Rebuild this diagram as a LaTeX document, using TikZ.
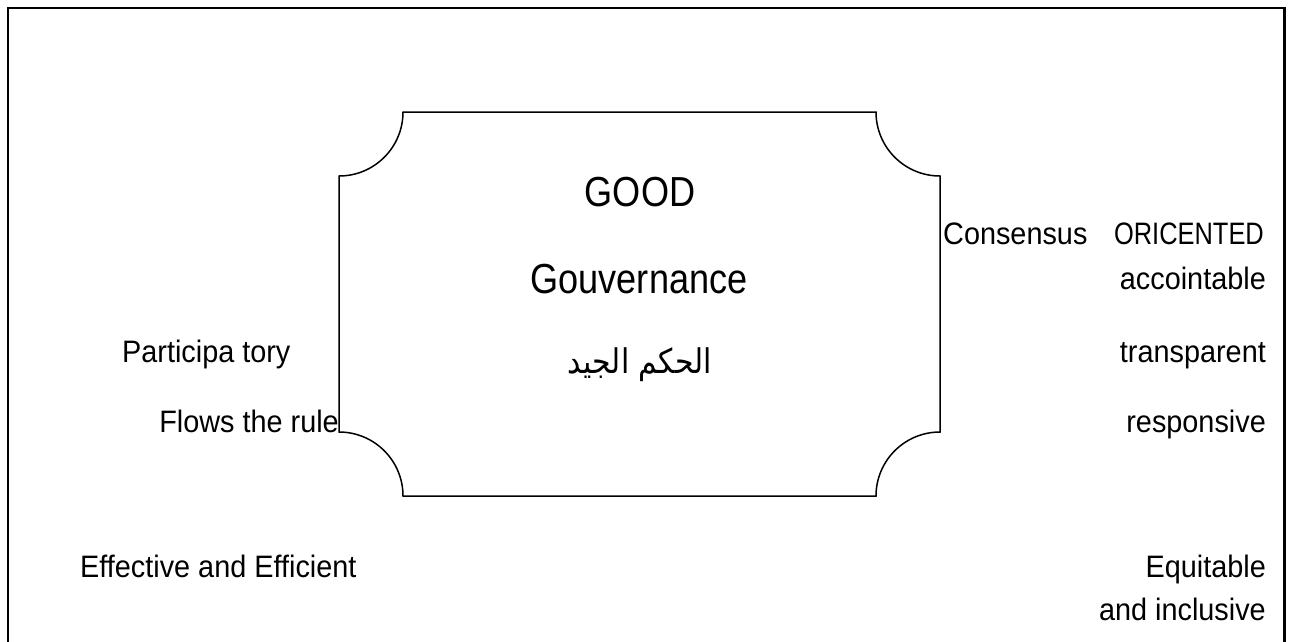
\documentclass[tikz,border=0pt]{standalone}
\usepackage{fontspec}
\setmainfont{Liberation Sans}
\newfontfamily\labelfont[FakeStretch=0.93]{Liberation Sans}
\newfontfamily\titlefont[FakeStretch=0.86]{Liberation Sans}
\newfontfamily\capsfont[FakeStretch=0.82]{Liberation Sans}
\newfontfamily\arabicfont[Script=Arabic,FakeStretch=0.88]{DejaVu Sans}
\TeXXeTstate=1
\begin{document}
\begin{tikzpicture}[x=1pt,y=-1pt,
  frame/.style={line width=2.4pt,draw=black},
  plaque/.style={line width=1.5pt,draw=black},
  label/.style={inner sep=0pt,font=\labelfont\fontsize{31}{36}\selectfont},
  capslabel/.style={inner sep=0pt,font=\capsfont\fontsize{31}{36}\selectfont},
  title/.style={inner sep=0pt,font=\titlefont\fontsize{42}{48}\selectfont},
  arabic/.style={inner sep=0pt,font=\arabicfont\fontsize{34}{40}\selectfont}]
\useasboundingbox (0,0) rectangle (1293,641);
\clip (0,0) rectangle (1293,641);

% outer frame (its lower edge runs past the page)
\draw[frame] (8,8) rectangle (1284.5,700);

% central plaque with concave corners
\draw[plaque] (403,112) -- (876,112)
  arc[start angle=180,end angle=90,radius=64] -- (940,432)
  arc[start angle=270,end angle=180,radius=64] -- (403,496)
  arc[start angle=0,end angle=-90,radius=64] -- (339,176)
  arc[start angle=90,end angle=0,radius=64] -- cycle;

% title lines inside the plaque
\node[title,anchor=base] (good) at (640,206) {GOOD};
\node[title,anchor=base] (gouv) at (639,293) {Gouvernance};
\node[arabic,anchor=base] (arab) at (640,373) {\beginR الحكم الجيد\endR};

% left column
\node[label,anchor=base west] (particip) at (122,362) {Participa tory};
\node[label,anchor=base east] (flows) at (339,432) {Flows the rule};
\node[label,anchor=base west] (effective) at (80,577) {Effective and Efficient};

% right column
\node[label,anchor=base west] (consensus) at (943,244) {Consensus};
\node[capslabel,anchor=base east] (oriented) at (1264,244) {ORICENTED};
\node[label,anchor=base east] (account) at (1266,289) {accointable};
\node[label,anchor=base east] (transp) at (1266,362) {transparent};
\node[label,anchor=base east] (respons) at (1266,432) {responsive};
\node[label,anchor=base east] (equit) at (1266,577) {Equitable};
\node[label,anchor=base east] (inclus) at (1266,620) {and inclusive};
\end{tikzpicture}
\end{document}
